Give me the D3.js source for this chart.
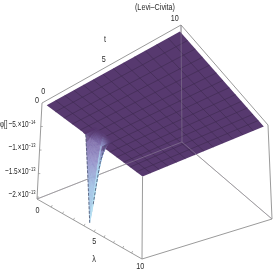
<!DOCTYPE html>
<html>
<head>
<meta charset="utf-8">
<script src="https://cdn.jsdelivr.net/npm/d3@7"></script>
<style>
    html, body { margin: 0; background: #fff; overflow: hidden; }
    svg { display: block; filter: blur(.35px); }
    text { font-family: "Liberation Sans", sans-serif; fill: #2a2a2a; font-size: 9.5px; }
</style>
</head>
<body>
<div id="chart"></div>
<script>
const title = '(Levi\u2013Civita)'
const lambdaTicks = [0, 5, 10]
const tTicks = [0, 5, 10]
const lambdaMinor = [1, 2, 3, 4, 5, 6, 7, 8, 9]
const zTicks = [-0.5e-13, -1e-13, -1.5e-13, -2e-13]
const zTickBase = ['\u22125.', '\u22121.', '\u22121.5', '\u22122.']
const zTickExp = ['\u221214', '\u221213', '\u221213', '\u221213']
const meshLines = d3.range(1, 13).map(i => i * 10 / 13)

// plateau sits just under the top of the box
const plateau = -0.04e-13
const spikeLambda = [3.4, 3.65, 4.0, 4.3, 4.6, 4.9, 5.35]
const spikeT = [0, 0.25, 0.5, 0.75, 1.0]
const spikeDepth = [
    [-0.04, -0.04, -1.0, -1.95, -1.3, -0.65, -0.04],
    [-0.04, -0.04, -0.7, -1.55, -1.0, -0.5, -0.04],
    [-0.04, -0.04, -0.35, -0.8, -0.55, -0.3, -0.04],
    [-0.04, -0.04, -0.15, -0.3, -0.22, -0.12, -0.04],
    [-0.04, -0.04, -0.04, -0.04, -0.04, -0.04, -0.04]
]

const dim = { width: 273, height: 273 }
const boxTop = [[42, 103], [181, 25], [268, 125], [142, 177]]
const boxBottom = [[37, 199], [182, 142], [272, 219], [142, 259]]

const lambdaScale = d3.scaleLinear().domain([0, 10]).range([.02, .98])
const tScale = d3.scaleLinear().domain([0, 10]).range([.02, .98])
const zScale = d3.scaleLinear().domain([0, -2.04e-13]).range([0, 1])

// unit square -> quad, corners are (u,v) = (0,0) (0,1) (1,1) (1,0)
function homography(q) {
    const [p0, p3, p2, p1] = q
    const dx1 = p1[0] - p2[0], dx2 = p3[0] - p2[0], sx = p0[0] - p1[0] + p2[0] - p3[0]
    const dy1 = p1[1] - p2[1], dy2 = p3[1] - p2[1], sy = p0[1] - p1[1] + p2[1] - p3[1]
    const den = dx1 * dy2 - dx2 * dy1
    const g = (sx * dy2 - dx2 * sy) / den
    const h = (dx1 * sy - sx * dy1) / den
    const a = p1[0] - p0[0] + g * p1[0], b = p3[0] - p0[0] + h * p3[0]
    const d = p1[1] - p0[1] + g * p1[1], e = p3[1] - p0[1] + h * p3[1]
    return (u, v) => {
        const w = g * u + h * v + 1
        return [(a * u + b * v + p0[0]) / w, (d * u + e * v + p0[1]) / w]
    }
}
const topFace = homography(boxTop)
const bottomFace = homography(boxBottom)

function project(l, t, z) {
    const u = lambdaScale(l), v = tScale(t), f = zScale(z)
    const a = topFace(u, v), b = bottomFace(u, v)
    return [a[0] + (b[0] - a[0]) * f, a[1] + (b[1] - a[1]) * f]
}
const onLambdaAxis = l => bottomFace(lambdaScale(l), 0)
const onTAxis = t => topFace(0, tScale(t))
const onZAxis = z => {
    const f = zScale(z)
    return [boxTop[0][0] + (boxBottom[0][0] - boxTop[0][0]) * f, boxTop[0][1] + (boxBottom[0][1] - boxTop[0][1]) * f]
}

const wrapper = d3.select('#chart').append('svg')
    .attr('width', dim.width).attr('height', dim.height)
const line = d3.line()
const poly = pts => line(pts) + 'Z'

const boxLine = (a, b, op = 1) => wrapper.append('path')
    .attr('d', line([a, b])).attr('stroke', '#8e8e8e').attr('stroke-width', .9)
    .attr('fill', 'none').attr('opacity', op)

// back of the box, behind the surface
boxLine(boxBottom[0], boxBottom[1])
boxLine(boxBottom[1], boxBottom[2])
boxLine(boxBottom[1], boxTop[1])

// surface
wrapper.append('path')
    .attr('d', poly([[0, 0], [0, 10], [10, 10], [10, 0]].map(d => project(d[0], d[1], plateau))))
    .attr('fill', '#57396f')
const mesh = wrapper.append('g').attr('fill', 'none').attr('stroke', '#352544')
    .attr('stroke-width', .6).attr('opacity', .75)
meshLines.forEach(m => {
    mesh.append('path').attr('d', line([project(m, 0, plateau), project(m, 10, plateau)]))
    mesh.append('path').attr('d', line([project(0, m, plateau), project(10, m, plateau)]))
})

// faint back edges seen through the surface
boxLine(boxBottom[0], boxBottom[1], .45).attr('stroke', '#a9a2ae')
boxLine(boxBottom[1], boxBottom[2], .45).attr('stroke', '#a9a2ae')
boxLine(boxBottom[1], boxTop[1], .55).attr('stroke', '#8d8496')

// spike, subdivided so the colour runs smoothly with depth
const colorLeft = d3.scaleLinear()
    .domain([0.04, 0.2, 0.6, 1.2, 2])
    .range(['#57396f', '#7d6ba8', '#9590c8', '#a3c4e6', '#a8cfe9'])
const colorRight = d3.scaleLinear()
    .domain([0.04, 0.2, 0.5, 1.0, 2])
    .range(['#57396f', '#8a86bd', '#a8cde9', '#b4def2', '#b8e2f4'])
const spike = wrapper.append('g')
const steps = 5
for (let j = spikeT.length - 2; j >= 0; j--) {
    for (let i = 0; i < spikeLambda.length - 1; i++) {
        const scale = i < 3 ? colorLeft : colorRight
        for (let a = 0; a < steps; a++) {
            for (let b = 0; b < steps; b++) {
                const at = (s, r) => {
                    const l = spikeLambda[i] + (spikeLambda[i + 1] - spikeLambda[i]) * s
                    const t = spikeT[j] + (spikeT[j + 1] - spikeT[j]) * r
                    const z0 = spikeDepth[j][i] + (spikeDepth[j][i + 1] - spikeDepth[j][i]) * s
                    const z1 = spikeDepth[j + 1][i] + (spikeDepth[j + 1][i + 1] - spikeDepth[j + 1][i]) * s
                    return { l, t, z: z0 + (z1 - z0) * r }
                }
                const cell = [[a, b], [a + 1, b], [a + 1, b + 1], [a, b + 1]]
                    .map(c => at(c[0] / steps, c[1] / steps))
                const c = scale(-d3.mean(cell, d => d.z))
                spike.append('path')
                    .attr('d', poly(cell.map(d => project(d.l, d.t, d.z * 1e-13))))
                    .attr('fill', c).attr('stroke', c).attr('stroke-width', .3)
            }
        }
    }
}
// mesh on the spike
const spikeRow = (j, from, to) => d3.range(from, to)
    .map(i => project(spikeLambda[i], spikeT[j], spikeDepth[j][i] * 1e-13))
spike.append('path').attr('d', line(spikeRow(0, 1, 4)))
    .attr('fill', 'none').attr('stroke', '#47506e').attr('stroke-width', .8).attr('stroke-dasharray', '3 1.5')
spike.append('path').attr('d', line(spikeRow(1, 3, 7)))
    .attr('fill', 'none').attr('stroke', '#47506e').attr('stroke-width', .8).attr('stroke-dasharray', '3 1.5')

// front edges
boxLine(boxTop[0], boxTop[1])
boxLine(boxTop[1], boxTop[2])
boxLine(boxTop[0], boxBottom[0])
boxLine(boxTop[2], boxBottom[2])
boxLine(boxBottom[0], boxBottom[3])
boxLine(boxBottom[3], boxBottom[2])
boxLine(project(10, 0, plateau), boxBottom[3])

// ticks
const tickG = wrapper.append('g').attr('stroke', '#8e8e8e').attr('stroke-width', .7)
lambdaMinor.forEach(l => {
    const p = onLambdaAxis(l)
    tickG.append('line').attr('x1', p[0]).attr('y1', p[1]).attr('x2', p[0] + 1).attr('y2', p[1] - 2)
})
zTicks.forEach(z => {
    const p = onZAxis(z)
    tickG.append('line').attr('x1', p[0]).attr('y1', p[1]).attr('x2', p[0] + 2).attr('y2', p[1])
})

// labels, squeezed sideways like the original
const label = (x, y, s, anchor = 'middle', squeeze = .76) => wrapper.append('text')
    .attr('transform', `translate(${x},${y}) scale(${squeeze},1)`)
    .attr('text-anchor', anchor).text(s)

label(155, 10, title)
tTicks.forEach((d, i) => {
    const p = onTAxis(d)
    label(p[0] + [-1, -2, -3][i], p[1] + [-8, -5, -6][i], d)
})
label(37, 103, 0)
lambdaTicks.forEach((d, i) => {
    const p = onLambdaAxis(d)
    label(p[0] + [-2, 0, 0][i], p[1] + [13, 12, 11][i], d)
})
label(105, 42, 't')
label(94, 262, '\u03bb')

zTicks.forEach((z, i) => {
    const p = onZAxis(z)
    const txt = label(35.5, p[1], zTickBase[i] + '\u00d710', 'end', .68)
    txt.append('tspan').attr('dy', -3).style('font-size', '6px').text(zTickExp[i])
})
label(0, 127, '\u03c6[]', 'start', .66)
</script>
</body>
</html>
